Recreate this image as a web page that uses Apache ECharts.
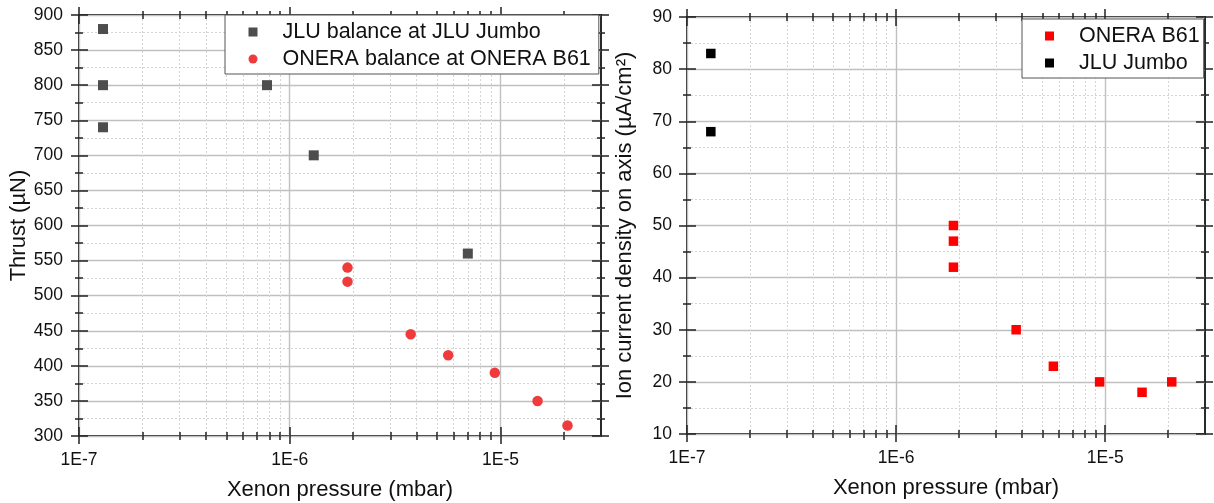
<!DOCTYPE html>
<html>
<head>
<meta charset="utf-8">
<script src="https://cdn.jsdelivr.net/npm/echarts@6/dist/echarts.min.js"></script>
<style>
html,body{margin:0;padding:0;background:#fff;}
#chart{width:1214px;height:503px;}
</style>
</head>
<body>
<div id="chart"></div>
<script>
// ---- data ----
const xMajorTicks = [1e-7, 1e-6, 1e-5];
const xMinorTicks = [2e-7, 3e-7, 4e-7, 5e-7, 6e-7, 7e-7, 8e-7, 9e-7,
                     2e-6, 3e-6, 4e-6, 5e-6, 6e-6, 7e-6, 8e-6, 9e-6, 2e-5];
const thrustMinorTicks = [325, 375, 425, 475, 525, 575, 625, 675, 725, 775, 825, 875];
const ionMinorTicks = [15, 25, 35, 45, 55, 65, 75, 85];

// Left chart: thrust vs xenon pressure
const thrustJLU = [[1.30e-7, 880], [1.30e-7, 800], [1.30e-7, 740], [7.8e-7, 800], [1.30e-6, 700], [7.0e-6, 560]];
const thrustONERA = [[1.88e-6, 540], [1.88e-6, 520], [3.75e-6, 445], [5.65e-6, 415], [9.4e-6, 390], [1.5e-5, 350], [2.08e-5, 315]];

// Right chart: ion current density vs xenon pressure
const ionONERA = [[1.88e-6, 50], [1.88e-6, 47], [1.88e-6, 42], [3.75e-6, 30], [5.65e-6, 23], [9.4e-6, 20], [1.5e-5, 18], [2.08e-5, 20]];
const ionJLU = [[1.30e-7, 83], [1.30e-7, 68]];

const FONT = "'Liberation Sans', Arial, sans-serif";
const TXT = '#111';
const TICK = { color: '#222', width: 1.5 };
const MAJOR_GRID = { color: '#c0c0c0', width: 1.4, type: 'solid' };
const MINOR_GRID = { color: '#d4d4d4', width: 1, type: [2, 2] };

function logFmt(v) { return '1E' + Math.round(Math.log10(v)); }

function xAxes(g, name, nameGap) {
  const base = { type: 'log', logBase: 10, min: 1e-7, max: 3e-5, gridIndex: g, axisLine: { show: false } };
  return [
    Object.assign({}, base, {
      position: 'bottom', offset: 8,
      axisTick: { show: true, inside: true, length: 17, customValues: xMajorTicks, lineStyle: TICK },
      axisLabel: { show: true, customValues: xMajorTicks, formatter: logFmt, margin: 7, fontSize: 17.5, fontFamily: FONT, color: TXT },
      splitLine: { show: true, lineStyle: MAJOR_GRID },
      name: name, nameLocation: 'middle', nameGap: nameGap,
      nameTextStyle: { fontSize: 22, fontFamily: FONT, color: TXT }
    }),
    Object.assign({}, base, {
      position: 'bottom', offset: 4,
      axisTick: { show: true, inside: true, length: 8, customValues: xMinorTicks, lineStyle: TICK },
      axisLabel: { show: false },
      splitLine: { show: true, lineStyle: MINOR_GRID }
    }),
    Object.assign({}, base, {
      position: 'top', offset: 8,
      axisTick: { show: true, inside: true, length: 17, customValues: xMajorTicks, lineStyle: TICK },
      axisLabel: { show: false }, splitLine: { show: false }
    }),
    Object.assign({}, base, {
      position: 'top', offset: 4,
      axisTick: { show: true, inside: true, length: 8, customValues: xMinorTicks, lineStyle: TICK },
      axisLabel: { show: false }, splitLine: { show: false }
    })
  ];
}

function yAxes(g, min, max, interval, minor, name, nameGap, labelMargin) {
  const base = { type: 'value', min: min, max: max, interval: interval, gridIndex: g, axisLine: { show: false } };
  return [
    Object.assign({}, base, {
      position: 'left', offset: 8,
      axisTick: { show: true, inside: true, length: 17, lineStyle: TICK },
      axisLabel: { show: true, margin: labelMargin, fontSize: 17.5, fontFamily: FONT, color: TXT },
      splitLine: { show: true, lineStyle: MAJOR_GRID },
      name: name, nameLocation: 'middle', nameGap: nameGap,
      nameTextStyle: { fontSize: 22, fontFamily: FONT, color: TXT }
    }),
    Object.assign({}, base, {
      position: 'left', offset: 4,
      axisTick: { show: true, inside: true, length: 8, customValues: minor, lineStyle: TICK },
      axisLabel: { show: false },
      splitLine: { show: true, lineStyle: MINOR_GRID }
    }),
    Object.assign({}, base, {
      position: 'right', offset: 8,
      axisTick: { show: true, inside: true, length: 17, lineStyle: TICK },
      axisLabel: { show: false }, splitLine: { show: false }
    }),
    Object.assign({}, base, {
      position: 'right', offset: 4,
      axisTick: { show: true, inside: true, length: 8, customValues: minor, lineStyle: TICK },
      axisLabel: { show: false }, splitLine: { show: false }
    })
  ];
}

const SQ = 'path://M0,0L10,0L10,10L0,10Z';

const legendCommon = {
  orient: 'vertical', itemWidth: 9, itemHeight: 9, itemGap: 5,
  borderColor: '#555', borderWidth: 1, backgroundColor: '#fff', borderRadius: 0,
  selectedMode: false,
  textStyle: { fontSize: 21.5, fontFamily: FONT, color: TXT, padding: [0, 0, 0, 20] }
};

const gridCommon = {
  show: true, borderColor: '#2a2a2a', borderWidth: 2, backgroundColor: '#fff',
  containLabel: false, outerBoundsMode: 'none'
};

const option = {
  animation: false,
  backgroundColor: '#fff',
  grid: [
    Object.assign({}, gridCommon, { left: 79, top: 15, width: 522, height: 421 }),
    Object.assign({}, gridCommon, { left: 687, top: 17, width: 518, height: 417 })
  ],
  xAxis: [].concat(xAxes(0, 'Xenon pressure (mbar)', 35), xAxes(1, 'Xenon pressure (mbar)', 35)),
  yAxis: [].concat(
    yAxes(0, 300, 900, 50, thrustMinorTicks, 'Thrust (µN)', 40, 8),
    yAxes(1, 10, 90, 10, ionMinorTicks, 'Ion current density on axis (µA/cm²)', 43, 7)
  ),
  legend: [
    Object.assign({}, legendCommon, {
      left: 225, top: 15, padding: [6, 8, 4, 23.5],
      data: [
        { name: 'JLU balance at JLU Jumbo', icon: SQ },
        { name: 'ONERA balance at ONERA B61', icon: 'circle' }
      ]
    }),
    Object.assign({}, legendCommon, {
      left: 1022, top: 19, padding: [6, 4, 4, 23],
      data: [
        { name: 'ONERA B61', icon: SQ },
        { name: 'JLU Jumbo', icon: SQ }
      ]
    })
  ],
  series: [
    { type: 'scatter', name: 'JLU balance at JLU Jumbo', xAxisIndex: 0, yAxisIndex: 0,
      symbol: 'rect', symbolSize: 10, itemStyle: { color: '#4d4d4d', opacity: 1 }, data: thrustJLU },
    { type: 'scatter', name: 'ONERA balance at ONERA B61', xAxisIndex: 0, yAxisIndex: 0,
      symbol: 'circle', symbolSize: 10.5, itemStyle: { color: '#ef3b3b', opacity: 1 }, data: thrustONERA },
    { type: 'scatter', name: 'ONERA B61', xAxisIndex: 4, yAxisIndex: 4,
      symbol: 'rect', symbolSize: 9.5, itemStyle: { color: '#ff0000', opacity: 1 }, data: ionONERA },
    { type: 'scatter', name: 'JLU Jumbo', xAxisIndex: 4, yAxisIndex: 4,
      symbol: 'rect', symbolSize: 9.5, itemStyle: { color: '#000000', opacity: 1 }, data: ionJLU }
  ]
};

const chart = echarts.init(document.getElementById('chart'), null, { renderer: 'canvas' });
chart.setOption(option);
</script>
</body>
</html>
